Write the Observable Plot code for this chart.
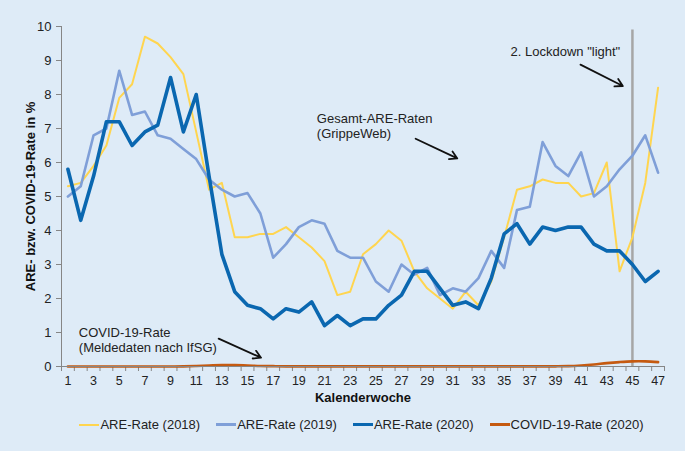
<!DOCTYPE html>
<html>
<head>
<meta charset="utf-8">
<script src="https://cdn.jsdelivr.net/npm/d3@7"></script>
<script src="https://cdn.jsdelivr.net/npm/@observablehq/plot@0.6"></script>
<style>
  html, body { margin: 0; padding: 0; background: #deebf7; }
  body { width: 685px; height: 451px; overflow: hidden; font-family: "Liberation Sans", Arial, sans-serif; }
  #legend { display: flex; justify-content: center; gap: 16px; font-size: 13px; color: #222; margin-top: 12px; padding-left: 38px; }
  .item { display: flex; align-items: center; }
  .sw { display: inline-block; width: 20px; margin-right: 1px; }
</style>
</head>
<body>
<div id="chart"></div>
<div id="legend"></div>
<script>
const weeks = [1,2,3,4,5,6,7,8,9,10,11,12,13,14,15,16,17,18,19,20,21,22,23,24,25,26,27,28,29,30,31,32,33,34,35,36,37,38,39,40,41,42,43,44,45,46,47];
const are2018 = [5.3,5.4,5.9,6.5,7.9,8.3,9.7,9.5,9.1,8.6, 6.9,5.2,5.4,3.8,3.8,3.9,3.9,4.1,3.8,3.5, 3.1,2.1,2.2,3.3,3.6,4.0,3.7,2.8,2.3,2.0, 1.7,2.2,1.8,2.5,3.8,5.2,5.3,5.5,5.4,5.4, 5.0,5.1,6.0,2.8,3.8,5.4,8.2];
const are2019 = [5.0,5.3,6.8,7.0,8.7,7.4,7.5,6.8,6.7,6.4, 6.1,5.5,5.2,5.0,5.1,4.5,3.2,3.6,4.1,4.3, 4.2,3.4,3.2,3.2,2.5,2.2,3.0,2.7,2.9,2.1, 2.3,2.2,2.6,3.4,2.9,4.6,4.7,6.6,5.9,5.6, 6.3,5.0,5.3,5.8,6.2,6.8,5.7];
const are2020 = [5.8,4.3,5.6,7.2,7.2,6.5,6.9,7.1,8.5,6.9, 8.0,5.6,3.3,2.2,1.8,1.7,1.4,1.7,1.6,1.9, 1.2,1.5,1.2,1.4,1.4,1.8,2.1,2.8,2.8,2.3, 1.8,1.9,1.7,2.6,3.9,4.2,3.6,4.1,4.0,4.1, 4.1,3.6,3.4,3.4,3.0,2.5,2.8];
const covid2020 = [0,0,0,0,0,0,0,0,0,0.005, 0.015,0.03,0.04,0.04,0.03,0.015,0.01,0.005,0.005,0.005, 0.005,0.005,0.005,0.005,0.005,0.005,0.005,0.005,0.005,0.005, 0.005,0.005,0.005,0.005,0.005,0.005,0.005,0.005,0.005,0.01, 0.03,0.06,0.1,0.13,0.15,0.15,0.13];

const seriesNames = ["ARE-Rate (2018)", "ARE-Rate (2019)", "ARE-Rate (2020)", "COVID-19-Rate (2020)"];
const seriesColors = ["#ffd54f", "#7f9fd8", "#0a67b0", "#c55a11"];
const seriesWidths = [2, 2.6, 3.6, 2.6];
const yTicks = [0,1,2,3,4,5,6,7,8,9,10];
const xTickLabels = [1,3,5,7,9,11,13,15,17,19,21,23,25,27,29,31,33,35,37,39,41,43,45,47];
const lockdownWeek = [45];

const notes = [
  {x: 35.5, y: 9.25, text: "2. Lockdown \"light\""},
  {x: 20.4, y: 7.28, text: "Gesamt-ARE-Raten"},
  {x: 20.4, y: 6.83, text: "(GrippeWeb)"},
  {x: 1.85, y: 1.0, text: "COVID-19-Rate"},
  {x: 1.85, y: 0.56, text: "(Meldedaten nach IfSG)"}
];
const arrows = [
  {x1: 40.95, y1: 8.88, x2: 44.25, y2: 8.25},
  {x1: 28.1, y1: 6.7, x2: 31.35, y2: 6.12},
  {x1: 12.75, y1: 0.82, x2: 16.05, y2: 0.26}
];

const allSeries = [are2018, are2019, are2020, covid2020];
const rows = [];
allSeries.forEach((vals, s) => weeks.forEach((w, i) => rows.push({week: w, value: vals[i], series: seriesNames[s]})));
const halfTicks = [0].concat(weeks).map(w => w + 0.5);

const lineMarks = seriesNames.map((name, s) => Plot.line(rows.filter(r => r.series === name), {
  x: "week", y: "value", stroke: seriesColors[s], strokeWidth: seriesWidths[s],
  curve: s === 3 ? "catmull-rom" : "linear", strokeLinejoin: "round"
}));

const chart = Plot.plot({
  width: 685,
  height: 405,
  marginLeft: 61,
  marginRight: 21,
  marginTop: 26,
  marginBottom: 39,
  style: {background: "transparent", fontFamily: "'Liberation Sans', Arial, sans-serif", color: "#222"},
  x: {domain: [0.5, 47.5]},
  y: {domain: [0, 10]},
  marks: [
    Plot.ruleX(lockdownWeek, {y1: 9.9, y2: 0, stroke: "#a6a6a6", strokeWidth: 2.5}),
    Plot.ruleX([0.5], {stroke: "#868686", strokeWidth: 1}),
    Plot.axisY({ticks: yTicks, tickSize: 5, tickPadding: 5, stroke: "#868686", fontSize: 13, label: null, tickFormat: d => d}),
    Plot.axisX({ticks: halfTicks, tickSize: 5, stroke: "#868686", text: null, label: null}),
    Plot.axisX({ticks: xTickLabels, tickSize: 0, tickPadding: 10, fontSize: 12.5, label: null, tickFormat: d => d}),
    ...lineMarks,
    Plot.ruleY([0], {stroke: "#868686", strokeWidth: 1}),
    Plot.text(notes, {x: "x", y: "y", text: "text", textAnchor: "start", fontSize: 13, fill: "#222"}),
    Plot.arrow(arrows, {x1: "x1", y1: "y1", x2: "x2", y2: "y2", stroke: "#111", strokeWidth: 1.8, headLength: 7}),
    Plot.text(["ARE- bzw. COVID-19-Rate in %"], {x: 0.5, y: 5, dx: -31, rotate: -90, text: d => d, textAnchor: "middle", fontSize: 13, fontWeight: "bold", fill: "#111"}),
    Plot.text(["Kalenderwoche"], {frameAnchor: "bottom", dy: 35, text: d => d, fontSize: 13, fontWeight: "bold", fill: "#111"})
  ]
});
document.getElementById("chart").appendChild(chart);

const legend = document.getElementById("legend");
seriesNames.forEach((name, s) => {
  const item = document.createElement("div");
  item.className = "item";
  const sw = document.createElement("span");
  sw.className = "sw";
  sw.style.height = seriesWidths[s] + "px";
  sw.style.background = seriesColors[s];
  const t = document.createElement("span");
  t.textContent = name;
  item.appendChild(sw);
  item.appendChild(t);
  legend.appendChild(item);
});
</script>
</body>
</html>
